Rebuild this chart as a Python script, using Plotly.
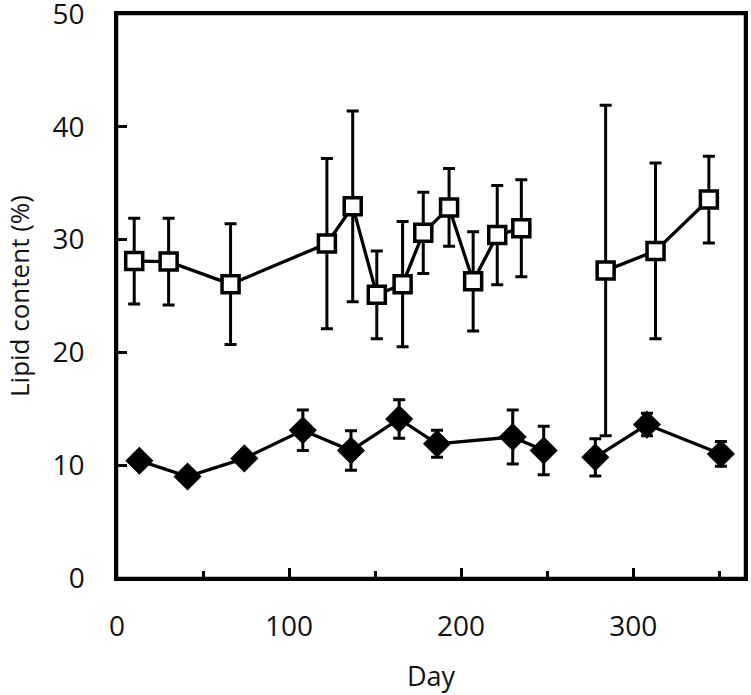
import plotly.graph_objects as go

# Open squares series
sq_day = [10, 30, 66, 122, 137, 151, 166, 178, 193, 207, 221, 235, 284, 313, 344]
sq_val = [28.1, 28.05, 26.05, 29.65, 32.95, 25.1, 26.05, 30.6, 32.85, 26.3, 30.4, 31.0, 27.25, 29.0, 33.55]
sq_sd = [3.8, 3.85, 5.35, 7.55, 8.45, 3.9, 5.55, 3.6, 3.45, 4.4, 4.4, 4.3, 14.65, 7.8, 3.85]
sq_break = 12  # line gap before this index

# Filled diamonds series
dm_day = [13, 41, 74, 108, 136, 164, 186, 230, 248, 278, 308, 351]
dm_val = [10.4, 9.0, 10.6, 13.1, 11.3, 14.1, 11.9, 12.5, 11.3, 10.7, 13.6, 11.0]
dm_sd = [0.3, 0.3, 0.4, 1.8, 1.75, 1.7, 1.2, 2.4, 2.15, 1.65, 1.0, 1.1]
dm_break = 9

x_ticks = [0, 100, 200, 300]
y_ticks = [0, 10, 20, 30, 40, 50]


def with_gap(vals, idx):
    return list(vals[:idx]) + [None] + list(vals[idx:])


fig = go.Figure()

fig.add_trace(go.Scatter(
    x=with_gap(dm_day, dm_break), y=with_gap(dm_val, dm_break),
    mode="lines+markers",
    line=dict(color="black", width=3.3),
    marker=dict(symbol="diamond", size=20, color="black", line=dict(color="black", width=1.5)),
    error_y=dict(type="data", array=with_gap(dm_sd, dm_break), color="black", thickness=3, width=6),
    showlegend=False,
))

fig.add_trace(go.Scatter(
    x=with_gap(sq_day, sq_break), y=with_gap(sq_val, sq_break),
    mode="lines+markers",
    line=dict(color="black", width=3.3),
    marker=dict(symbol="square", size=17, color="white", line=dict(color="black", width=3.5)),
    error_y=dict(type="data", array=with_gap(sq_sd, sq_break), color="black", thickness=3, width=6),
    showlegend=False,
))

font_family = "Open Sans, Noto Sans, sans-serif"

fig.update_layout(
    template="none",
    width=751, height=695,
    margin=dict(l=117, r=6, t=14, b=117),
    paper_bgcolor="white", plot_bgcolor="white",
    font=dict(family=font_family, color="black"),
    xaxis=dict(
        range=[0, 365], tickvals=x_ticks, showgrid=False, zeroline=False, automargin=False,
        showline=True, linecolor="black", linewidth=2.5, mirror=True,
        ticks="inside", ticklen=10, tickwidth=2.5, tickcolor="black",
        minor=dict(dtick=50, tick0=0, ticks="inside", ticklen=7, tickwidth=2.5, tickcolor="black", showgrid=False),
        tickfont=dict(size=28, color="#111"), ticklabeloverflow="allow",
        ticklabelstandoff=22,
        title=dict(text="Day", font=dict(size=27, color="#111"), standoff=24),
    ),
    yaxis=dict(
        range=[0, 50], tickvals=y_ticks, showgrid=False, zeroline=False, automargin=False,
        showline=True, linecolor="black", linewidth=2.5, mirror=True,
        ticks="inside", ticklen=10, tickwidth=2.5, tickcolor="black",
        tickfont=dict(size=28, color="#111"), ticklabeloverflow="allow",
        ticklabelstandoff=24,
        title=dict(text="Lipid content (%)", font=dict(size=26, color="#111"), standoff=16),
    ),
    shapes=[dict(type="rect", xref="paper", yref="paper", x0=0, x1=1, y0=0, y1=1,
                 line=dict(color="black", width=2.5), fillcolor="rgba(0,0,0,0)", layer="above")],
)

fig.write_html(
    "out.html",
    config={"displayModeBar": False},
    post_script="document.body.style.margin='0px';document.body.style.padding='0px';",
)
